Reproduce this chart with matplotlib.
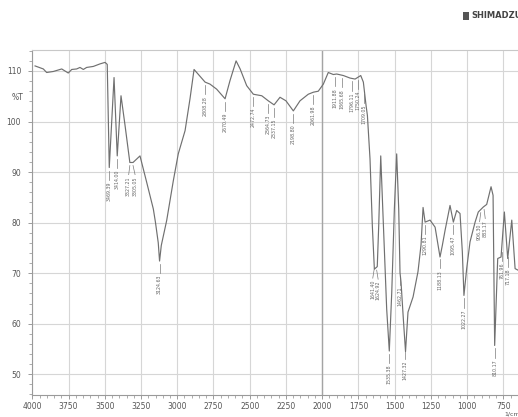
import numpy as np
import matplotlib
matplotlib.use("Agg")
import matplotlib.pyplot as plt
from matplotlib.ticker import MultipleLocator
from matplotlib.patches import Rectangle

# IR transmittance trace (wavenumber in 1/cm, %T)
wavenumber = [3981, 3924, 3901, 3855, 3797, 3752, 3728, 3694, 3671, 3648, 3625, 3579,
              3533, 3498, 3483, 3469, 3436, 3414, 3388, 3360, 3327, 3305, 3257, 3211,
              3165, 3150, 3131, 3122, 3110, 3073, 3027, 2993, 2946, 2912, 2884, 2808,
              2774, 2728, 2670, 2636, 2594, 2566, 2521, 2475, 2417, 2372, 2332, 2291,
              2250, 2199, 2153, 2096, 2061, 2027, 1992, 1958, 1923, 1900, 1854, 1808,
              1773, 1734, 1716, 1697, 1688, 1670, 1654, 1640, 1620, 1610, 1596, 1582,
              1555, 1537, 1520, 1502, 1486, 1472, 1463, 1456, 1440, 1425, 1408, 1373,
              1339, 1318, 1304, 1290, 1256, 1221, 1187, 1171, 1152, 1118, 1095, 1072,
              1049, 1033, 1022, 1003, 980, 945, 923, 888, 865, 835, 821, 810,
              789, 766, 743, 720, 692, 669, 649]
transmittance = [111.0, 110.4, 109.7, 109.9, 110.4, 109.6, 110.3, 110.4, 110.7, 110.3, 110.7, 110.9,
                 111.4, 111.7, 111.3, 90.9, 108.7, 93.2, 105.1, 99.2, 91.9, 91.9, 93.2, 88.0,
                 82.7, 80.0, 76.0, 72.4, 75.5, 80.4, 88.3, 93.6, 98.2, 104.5, 110.3, 107.8,
                 107.4, 106.4, 104.5, 108.1, 112.0, 110.4, 107.1, 105.4, 105.1, 104.1, 103.3, 104.8,
                 104.1, 102.1, 104.1, 105.4, 105.8, 106.0, 107.4, 109.7, 109.3, 109.4, 109.1, 108.6,
                 108.4, 109.1, 107.8, 103.1, 101.2, 92.6, 79.4, 70.8, 71.3, 79.4, 93.2, 82.7,
                 62.9, 54.6, 66.2, 82.7, 93.6, 82.7, 70.1, 68.2, 60.9, 54.5, 62.3, 65.3,
                 70.3, 75.6, 83.0, 80.1, 80.5, 79.1, 73.2, 75.5, 78.5, 83.4, 80.1, 82.4,
                 81.8, 74.2, 65.6, 70.9, 76.2, 80.1, 82.1, 83.1, 83.6, 87.1, 85.4, 55.7,
                 72.9, 73.2, 82.1, 72.9, 80.5, 70.9, 70.6]

# Peak annotations
peak_positions = [3469, 3414, 3327, 3305, 3122, 2808, 2670, 2475, 2372, 2332, 2199, 2061,
                  1911, 1865, 1796, 1750, 1709, 1641, 1624, 1537, 1463, 1427, 1290, 1188,
                  1095, 1022, 906, 883, 810, 762, 717]
peak_labels = ["3469.39", "3414.00", "3327.21", "3305.05", "3124.63", "2808.28", "2670.49",
               "2472.74", "2364.73", "2337.15", "2198.80", "2061.98", "1911.88", "1865.68",
               "1796.11", "1750.24", "1709.05", "1641.40", "1624.92", "1535.38", "1462.71",
               "1427.32", "1290.81", "1188.13", "1095.47", "1022.27", "906.30", "883.17",
               "810.17", "761.96", "717.18"]

x_ticks = [4000, 3750, 3500, 3250, 3000, 2750, 2500, 2250, 2000, 1750, 1500, 1250, 1000, 750]
y_ticks = [50, 60, 70, 80, 90, 100, 110]

# sideways nudges (1/cm) for value labels that would collide with a neighbour
label_nudge = {"3327.21": 8, "3305.05": -14, "1641.40": 10, "1624.92": -10,
               "906.30": 8, "883.17": -8}

W, H = 518, 417
fig = plt.figure(figsize=(W / 100, H / 100), dpi=100)
ax = fig.add_axes([32.3 / W, 1 - 395 / H, (518 - 32.3) / W, 345 / H])

ax.set_xlim(4000, 649)
ax.set_ylim(45.9, 114.15)

# grid
for xv in x_ticks:
    ax.axvline(xv, color="#d6d6d6", lw=0.8, zorder=0)
for yv in y_ticks:
    ax.axhline(yv, color="#d6d6d6", lw=0.8, zorder=0)
ax.axvline(2000, color="#a4a4a4", lw=1.0, zorder=0)

ax.plot(wavenumber, transmittance, color="#707070", lw=0.85, zorder=3)

# peak markers: short tick below the curve then a rotated value
wn_asc = np.array(wavenumber[::-1], dtype=float)
t_asc = np.array(transmittance[::-1], dtype=float)
for pos, lab in zip(peak_positions, peak_labels):
    yv = np.interp(pos, wn_asc, t_asc)
    tx = pos + label_nudge.get(lab, 0)
    ax.plot([pos, tx], [yv - 0.6, yv - 2.4], color="#7a7a7a", lw=0.5, zorder=2)
    ax.text(tx, yv - 2.7, lab, rotation=90, ha="center", va="top",
            fontsize=3.4, color="#666666", zorder=2)

ax.set_xticks(x_ticks)
ax.set_yticks(y_ticks)
ax.xaxis.set_minor_locator(MultipleLocator(50))
ax.yaxis.set_minor_locator(MultipleLocator(2))
ax.tick_params(axis="both", which="major", labelsize=5.5, labelcolor="#555555",
               color="#8c8c8c", length=3, width=0.6)
ax.tick_params(axis="both", which="minor", color="#8c8c8c", length=2, width=0.5)
ax.tick_params(axis="y", pad=5)
ax.tick_params(axis="x", pad=2)

for side in ("left", "bottom", "top"):
    ax.spines[side].set_color("#9a9a9a")
    ax.spines[side].set_linewidth(0.8)
ax.spines["top"].set_color("#c8c8c8")
ax.spines["right"].set_visible(False)

fig.text(18 / W, 1 - 97 / H, "%T", fontsize=5.5, color="#555555", ha="center", va="center")
fig.text(504 / W, 1 - 414.5 / H, "1/cm", fontsize=4.5, color="#555555", ha="left", va="center")

# maker logo
fig.patches.append(Rectangle((463 / W, 1 - 20 / H), 6 / W, 8 / H, transform=fig.transFigure,
                             facecolor="#555555", edgecolor="none"))
fig.text(471 / W, 1 - 16 / H, "SHIMADZU", fontsize=6, fontweight="bold", color="#444444",
         ha="left", va="center")

fig.savefig("out.png", dpi=100)
